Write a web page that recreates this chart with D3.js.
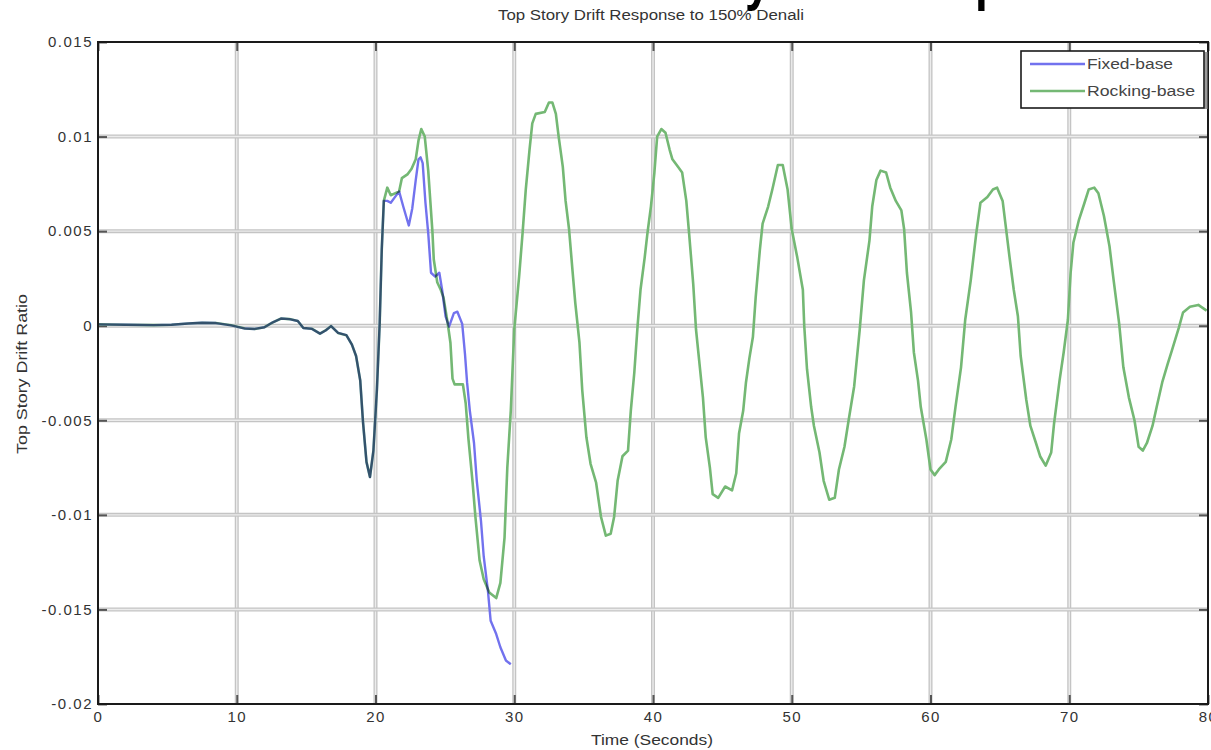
<!DOCTYPE html>
<html>
<head>
<meta charset="utf-8">
<script src="https://cdn.jsdelivr.net/npm/d3@7/dist/d3.min.js"></script>
<style>
  html, body { margin: 0; padding: 0; background: #fff; overflow: hidden; }
  svg { display: block; }
  text { font-family: "Liberation Sans", Arial, sans-serif; fill: #2a2a2a; }
</style>
</head>
<body>
<svg id="chart" width="1211" height="750"></svg>
<script>
// Time axis (seconds) and top-story drift ratio for each base condition
const rockingTime = [0,2,4,5.3,6.5,7.5,8.5,9.6,10.6,11.3,12.0,12.6,13.2,13.8,14.4,14.8,15.4,16.0,16.4,16.8,17.3,17.9,18.3,18.6,18.9,19.1,19.35,19.6,19.85,20.1,20.3,20.45,20.6,20.85,21.1,21.4,21.7,21.9,22.3,22.6,22.9,23.1,23.3,23.55,23.8,24.1,24.2,24.45,24.7,24.9,25.2,25.4,25.55,25.7,26.3,26.5,26.7,27.0,27.2,27.5,27.8,28.2,28.7,29.0,29.3,29.5,29.75,30.0,30.35,30.6,30.83,31.1,31.3,31.55,32.2,32.5,32.75,33.0,33.2,33.5,33.7,33.95,34.2,34.4,34.7,34.9,35.2,35.5,35.9,36.25,36.6,36.95,37.2,37.45,37.8,38.2,38.4,38.65,38.9,39.1,39.4,39.6,39.85,40.1,40.3,40.6,40.9,41.2,41.4,41.8,42.1,42.4,42.6,42.9,43.1,43.35,43.6,43.8,44.1,44.3,44.7,45.2,45.7,46.0,46.2,46.5,46.7,46.95,47.2,47.4,47.7,47.9,48.3,48.6,49.0,49.35,49.7,50.0,50.4,50.8,50.9,51.1,51.4,51.6,52.0,52.3,52.7,53.1,53.4,53.8,54.1,54.5,54.9,55.2,55.6,55.8,56.1,56.4,56.8,57.1,57.5,57.9,58.1,58.3,58.6,58.8,59.1,59.3,59.7,60.0,60.3,60.6,61.1,61.5,61.8,62.2,62.5,62.9,63.3,63.6,64.1,64.5,64.8,65.2,65.4,65.7,66.0,66.3,66.5,66.9,67.2,67.6,67.9,68.3,68.7,68.9,69.3,69.6,69.9,70.1,70.3,70.7,71.1,71.4,71.8,72.1,72.5,72.9,73.2,73.6,73.9,74.3,74.7,75.0,75.3,75.6,76.0,76.3,76.7,77.1,77.4,77.9,78.2,78.7,79.3,79.9];
const rockingDrift = [0.00007,0.00005,0.00003,0.00005,0.00012,0.00016,0.00014,0.00002,-0.00015,-0.00017,-0.00008,0.00018,0.00038,0.00035,0.00025,-0.00012,-0.00016,-0.00042,-0.00025,-0.00002,-0.00038,-0.0005,-0.001,-0.0016,-0.0029,-0.0051,-0.0072,-0.0080,-0.0066,-0.0034,0.0001,0.0040,0.0066,0.0073,0.0069,0.0070,0.0071,0.0078,0.0080,0.0083,0.0088,0.0098,0.0104,0.0100,0.0082,0.0050,0.0035,0.0023,0.0019,0.0015,0.00014,-0.0009,-0.0028,-0.0031,-0.0031,-0.0041,-0.0060,-0.0083,-0.0101,-0.0124,-0.0134,-0.0141,-0.0144,-0.0136,-0.0112,-0.0075,-0.0045,-0.0002,0.0026,0.0049,0.0072,0.0093,0.0107,0.0112,0.0113,0.0118,0.0118,0.0112,0.0100,0.0084,0.0066,0.0051,0.0029,0.0012,-0.0009,-0.0034,-0.0059,-0.0073,-0.0083,-0.0101,-0.0111,-0.0110,-0.0101,-0.0082,-0.0069,-0.0066,-0.0045,-0.0025,0.0001,0.0019,0.0036,0.0049,0.0063,0.0081,0.0100,0.0104,0.0102,0.0093,0.0088,0.0084,0.0081,0.0066,0.0049,0.0022,-0.0002,-0.0020,-0.0038,-0.0059,-0.0075,-0.0089,-0.0091,-0.0085,-0.0087,-0.0078,-0.0057,-0.0045,-0.0030,-0.0017,-0.0006,0.0015,0.0040,0.0054,0.0063,0.0072,0.0085,0.0085,0.0072,0.0051,0.0036,0.0019,0.0000,-0.0023,-0.0043,-0.0053,-0.0067,-0.0082,-0.0092,-0.0091,-0.0076,-0.0064,-0.0050,-0.0032,-0.0002,0.0024,0.0045,0.0063,0.0077,0.0082,0.0081,0.0073,0.0066,0.0061,0.0051,0.0028,0.0007,-0.0014,-0.0029,-0.0043,-0.0060,-0.0076,-0.0079,-0.0076,-0.0072,-0.0060,-0.0043,-0.0022,0.0003,0.0024,0.0049,0.0065,0.0068,0.0072,0.0073,0.0066,0.0054,0.0036,0.0019,0.0005,-0.0016,-0.0039,-0.0053,-0.0062,-0.0069,-0.0074,-0.0067,-0.0052,-0.0029,-0.0014,0.0003,0.0028,0.0044,0.0056,0.0065,0.0072,0.0073,0.0070,0.0058,0.0042,0.0024,0.0001,-0.0022,-0.0038,-0.0050,-0.0064,-0.0066,-0.0062,-0.0053,-0.0043,-0.0030,-0.0020,-0.0013,-0.0001,0.0007,0.0010,0.0011,0.0008];

const fixedTime = [0,2,4,5.3,6.5,7.5,8.5,9.6,10.6,11.3,12.0,12.6,13.2,13.8,14.4,14.8,15.4,16.0,16.4,16.8,17.3,17.9,18.3,18.6,18.9,19.1,19.35,19.6,19.85,20.1,20.3,20.45,20.6,20.85,21.1,21.4,21.7,22.0,22.4,22.65,22.9,23.1,23.25,23.4,23.6,23.8,24.0,24.3,24.6,24.8,25.05,25.3,25.65,25.9,26.25,26.45,26.6,26.8,27.1,27.3,27.6,27.8,28.1,28.3,28.7,29.0,29.4,29.75];
const fixedDrift = [0.00007,0.00005,0.00003,0.00005,0.00012,0.00016,0.00014,0.00002,-0.00015,-0.00017,-0.00008,0.00018,0.00038,0.00035,0.00025,-0.00012,-0.00016,-0.00042,-0.00025,-0.00002,-0.00038,-0.0005,-0.001,-0.0016,-0.0029,-0.0051,-0.0072,-0.0080,-0.0066,-0.0034,0.0001,0.0040,0.0066,0.0066,0.0065,0.0068,0.0071,0.0063,0.0053,0.0062,0.0077,0.0088,0.0089,0.0086,0.0065,0.0049,0.0028,0.0026,0.0028,0.0019,0.0005,-0.00005,0.00067,0.00074,0.0001,-0.0015,-0.0030,-0.0045,-0.0062,-0.0082,-0.0103,-0.0122,-0.0140,-0.0156,-0.0163,-0.0170,-0.0177,-0.0179];

const xTicks = [0,10,20,30,40,50,60,70,80];
const yTicks = [0.015,0.01,0.005,0,-0.005,-0.01,-0.015,-0.02];
const yTickLabels = ["0.015","0.01","0.005","0","-0.005","-0.01","-0.015","-0.02"];
const seriesNames = ["Fixed-base","Rocking-base"];
const seriesColors = ["#7272ee","#74b874"];

const svg = d3.select("#chart");
const plotLeft = 98, plotRight = 1208, plotTop = 42, plotBottom = 704;

const x = d3.scaleLinear().domain([0, 80]).range([plotLeft, plotRight]);
const y = d3.scaleLinear().domain([-0.02, 0.015]).range([plotBottom, plotTop]);

// Slide heading, mostly above the visible area (only descenders reach the page)
svg.append("text")
  .attr("transform", "translate(653,-1) scale(1,1.3)")
  .style("font-family", "'Liberation Sans', Arial, sans-serif")
  .style("font-weight", "bold").style("font-size", "46px").style("fill", "#000")
  .text("Story Drift Response");

// Grid: soft double-edged gray lines
const grid = svg.append("g");
function gridLines(cls, data, attrs) {
  [["#c4c4c4", 4], ["#ececec", 1.4]].forEach(([c, w], k) => {
    grid.selectAll("line." + cls + k).data(data).join("line")
      .attr("class", cls + k)
      .attr("x1", attrs.x1).attr("x2", attrs.x2)
      .attr("y1", attrs.y1).attr("y2", attrs.y2)
      .attr("stroke", c).attr("stroke-width", w);
  });
}
gridLines("gx", xTicks.slice(1, -1), {x1: d => x(d), x2: d => x(d), y1: plotTop, y2: plotBottom});
gridLines("gy", yTicks.slice(1, -1), {x1: plotLeft, x2: plotRight, y1: d => y(d), y2: d => y(d)});

// Axes with inward ticks on all four sides
const tickLen = 9;
const axB = d3.axisBottom(x).tickValues(xTicks).tickSize(-tickLen).tickPadding(7).tickFormat(d3.format("d"));
const axT = d3.axisTop(x).tickValues(xTicks).tickSize(-tickLen).tickFormat("");
const axL = d3.axisLeft(y).tickValues(yTicks).tickSize(-tickLen).tickPadding(5)
  .tickFormat((d, i) => yTickLabels[i]);
const axR = d3.axisRight(y).tickValues(yTicks).tickSize(-tickLen).tickFormat("");

function styleAxis(g) {
  g.select(".domain").remove();
  g.selectAll(".tick line").attr("stroke", "#555").attr("stroke-width", 2);
  g.selectAll(".tick text")
    .style("font-family", "'Liberation Sans', Arial, sans-serif")
    .style("font-size", "15px").style("letter-spacing", "1.5px").style("fill", "#333");
}
svg.append("g").attr("transform", `translate(0,${plotBottom})`).call(axB).call(styleAxis);
svg.append("g").attr("transform", `translate(0,${plotTop})`).call(axT).call(styleAxis);
svg.append("g").attr("transform", `translate(${plotLeft},0)`).call(axL).call(styleAxis);
svg.append("g").attr("transform", `translate(${plotRight},0)`).call(axR).call(styleAxis);

// Response histories
const line = d3.line().x(d => x(d[0])).y(d => y(d[1]));
const fixedPts = fixedTime.map((t, i) => [t, fixedDrift[i]]);
const rockPts = rockingTime.map((t, i) => [t, rockingDrift[i]]);
const plot = svg.append("g").style("isolation", "isolate");
plot.append("path").datum(fixedPts).attr("d", line)
  .attr("fill", "none").attr("stroke", seriesColors[0]).attr("stroke-width", 2.4)
  .attr("stroke-linejoin", "round");
plot.append("path").datum(rockPts).attr("d", line)
  .attr("fill", "none").attr("stroke", seriesColors[1]).attr("stroke-width", 2.6)
  .attr("stroke-linejoin", "round").style("mix-blend-mode", "multiply");

// Plot frame
svg.append("rect").attr("x", plotLeft).attr("y", plotTop)
  .attr("width", plotRight - plotLeft).attr("height", plotBottom - plotTop)
  .attr("fill", "none").attr("stroke", "#1a1a1a").attr("stroke-width", 2);

// Titles
svg.append("text").attr("x", 651).attr("y", 20).attr("text-anchor", "middle")
  .attr("textLength", 306).attr("lengthAdjust", "spacingAndGlyphs")
  .style("font-size", "14px").style("fill", "#333")
  .text("Top Story Drift Response to 150% Denali");
svg.append("text").attr("x", 652).attr("y", 745).attr("text-anchor", "middle")
  .attr("textLength", 122).attr("lengthAdjust", "spacingAndGlyphs")
  .style("font-size", "14px").style("fill", "#333")
  .text("Time (Seconds)");
svg.append("text").attr("transform", "translate(27,374) rotate(-90)").attr("text-anchor", "middle")
  .attr("textLength", 160).attr("lengthAdjust", "spacingAndGlyphs")
  .style("font-size", "14px").style("fill", "#333")
  .text("Top Story Drift Ratio");

// Legend
const lg = svg.append("g");
lg.append("line").attr("x1", 1206).attr("x2", 1206).attr("y1", 52).attr("y2", 109)
  .attr("stroke", "#9a9a9a").attr("stroke-width", 3);
lg.append("rect").attr("x", 1021).attr("y", 51).attr("width", 183).attr("height", 57)
  .attr("fill", "#fff").attr("stroke", "#1a1a1a").attr("stroke-width", 1.6);
const legendY = [64, 91];
const legendLen = [86, 108];
seriesNames.forEach((name, i) => {
  lg.append("line").attr("x1", 1030).attr("x2", 1085)
    .attr("y1", legendY[i]).attr("y2", legendY[i])
    .attr("stroke", seriesColors[i]).attr("stroke-width", 2.4);
  lg.append("text").attr("x", 1087).attr("y", legendY[i] + 5)
    .attr("textLength", legendLen[i]).attr("lengthAdjust", "spacingAndGlyphs")
    .style("font-size", "14px").style("fill", "#444")
    .text(name);
});
</script>
</body>
</html>
